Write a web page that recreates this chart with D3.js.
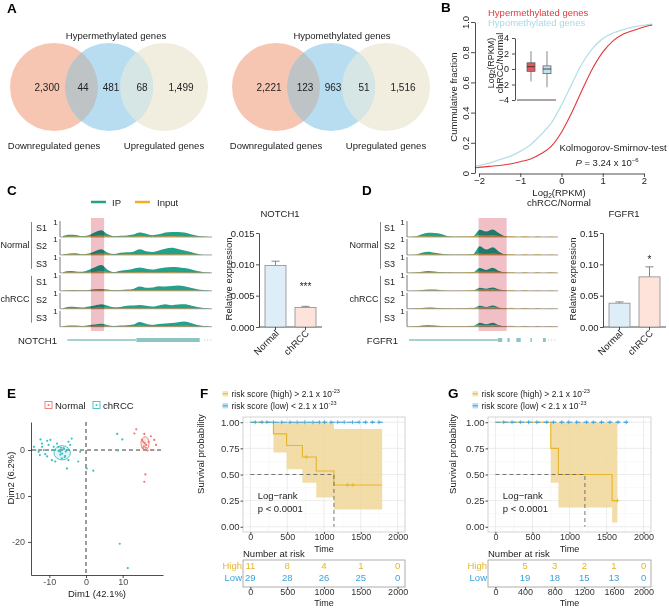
<!DOCTYPE html>
<html>
<head>
<meta charset="utf-8">
<script src="https://d3js.org/d3.v7.min.js"></script>
<style>
  body { margin: 0; background: #fff; }
  svg { font-family: "Liberation Sans", Arial, Helvetica, sans-serif; }
</style>
</head>
<body>
<div id="app"></div>
<script>
// ---------- A: Venn counts ----------
const hyperCounts = [2300, 44, 481, 68, 1499];
const hypoCounts = [2221, 123, 963, 51, 1516];
const vennSetNames = ['Downregulated genes', 'Upregulated genes'];

// ---------- B: cumulative fraction ----------
const ksX = [-2.1, -2, -1.75, -1.5, -1.25, -1, -0.75, -0.5, -0.25, 0, 0.25, 0.5, 0.75, 1, 1.25, 1.5, 1.75, 2, 2.2];
const ksHyper = [0.034, 0.037, 0.044, 0.05, 0.06, 0.075, 0.092, 0.127, 0.176, 0.27, 0.40, 0.55, 0.69, 0.80, 0.875, 0.92, 0.945, 0.967, 0.98];
const ksHypo = [0.045, 0.05, 0.066, 0.088, 0.11, 0.143, 0.187, 0.253, 0.33, 0.45, 0.59, 0.725, 0.824, 0.89, 0.927, 0.95, 0.967, 0.978, 0.985];
const boxGroups = ['Hypermethylated', 'Hypomethylated'];
const boxLow = [-1.6, -2.35];
const boxQ1 = [-0.3, -0.6];
const boxMed = [0.3, 0];
const boxQ3 = [0.8, 0.4];
const boxHigh = [2.3, 2.3];

// ---------- C / D: coverage tracks (relative, 24 bins) ----------
const trackSamples = ['S1', 'S2', 'S3', 'S1', 'S2', 'S3'];
const trackGroups = ['Normal', 'chRCC'];
const notchIP = [
  [0.06, 0.15, 0.14, 0.06, 0.12, 0.32, 0.45, 0.18, 0.05, 0.08, 0.10, 0.16, 0.30, 0.22, 0.12, 0.18, 0.30, 0.34, 0.33, 0.30, 0.18, 0.08, 0.03, 0],
  [0.02, 0.10, 0.12, 0.05, 0.10, 0.25, 0.38, 0.15, 0.06, 0.14, 0.18, 0.22, 0.38, 0.25, 0.20, 0.30, 0.42, 0.48, 0.40, 0.30, 0.20, 0.08, 0, 0],
  [0.05, 0.12, 0.10, 0.08, 0.20, 0.38, 0.52, 0.20, 0.06, 0.15, 0.20, 0.28, 0.36, 0.28, 0.22, 0.30, 0.36, 0.40, 0.38, 0.32, 0.25, 0.12, 0.05, 0.02],
  [0.02, 0.04, 0.06, 0.04, 0.06, 0.10, 0.12, 0.08, 0.04, 0.05, 0.08, 0.12, 0.28, 0.20, 0.22, 0.30, 0.28, 0.32, 0.36, 0.30, 0.20, 0.10, 0.05, 0.02],
  [0.04, 0.14, 0.12, 0.08, 0.15, 0.22, 0.30, 0.20, 0.10, 0.12, 0.20, 0.22, 0.25, 0.20, 0.15, 0.22, 0.30, 0.24, 0.28, 0.30, 0.22, 0.12, 0.05, 0.02],
  [0.03, 0.08, 0.08, 0.05, 0.10, 0.14, 0.20, 0.10, 0.05, 0.08, 0.10, 0.15, 0.32, 0.20, 0.12, 0.18, 0.22, 0.25, 0.30, 0.35, 0.25, 0.12, 0.05, 0.02]
];
const notchInput = [
  [0.02, 0.05, 0.05, 0.03, 0.05, 0.08, 0.10, 0.06, 0.02, 0.03, 0.04, 0.04, 0.06, 0.04, 0.03, 0.05, 0.05, 0.06, 0.05, 0.04, 0.03, 0.02, 0.01, 0],
  [0.02, 0.04, 0.05, 0.03, 0.04, 0.07, 0.09, 0.05, 0.02, 0.03, 0.04, 0.05, 0.05, 0.04, 0.03, 0.04, 0.05, 0.05, 0.04, 0.04, 0.03, 0.02, 0, 0],
  [0.02, 0.04, 0.04, 0.03, 0.05, 0.08, 0.11, 0.06, 0.02, 0.03, 0.04, 0.05, 0.06, 0.05, 0.04, 0.05, 0.05, 0.06, 0.05, 0.04, 0.03, 0.02, 0.01, 0],
  [0.02, 0.03, 0.04, 0.03, 0.04, 0.06, 0.07, 0.05, 0.02, 0.03, 0.04, 0.05, 0.06, 0.05, 0.04, 0.05, 0.05, 0.05, 0.06, 0.05, 0.03, 0.02, 0.01, 0],
  [0.02, 0.05, 0.05, 0.03, 0.05, 0.07, 0.09, 0.06, 0.03, 0.04, 0.05, 0.05, 0.05, 0.04, 0.03, 0.04, 0.05, 0.04, 0.05, 0.05, 0.04, 0.02, 0.01, 0],
  [0.02, 0.04, 0.04, 0.03, 0.04, 0.06, 0.08, 0.05, 0.02, 0.03, 0.04, 0.04, 0.06, 0.04, 0.03, 0.04, 0.04, 0.05, 0.05, 0.06, 0.04, 0.02, 0.01, 0]
];
const fgfrIP = [
  [0, 0.03, 0.18, 0.28, 0.27, 0.20, 0.06, 0.02, 0.01, 0.01, 0.05, 0.48, 0.36, 0.50, 0.25, 0.04, 0, 0, 0, 0, 0, 0, 0, 0],
  [0, 0.02, 0.15, 0.22, 0.15, 0.08, 0.03, 0.01, 0.01, 0.01, 0.06, 0.58, 0.36, 0.52, 0.22, 0.03, 0, 0, 0, 0, 0, 0, 0, 0],
  [0, 0.01, 0.08, 0.13, 0.10, 0.05, 0.02, 0.01, 0.01, 0.01, 0.04, 0.32, 0.20, 0.34, 0.12, 0.02, 0, 0, 0, 0, 0, 0, 0, 0],
  [0, 0.01, 0.06, 0.09, 0.08, 0.04, 0.01, 0.01, 0.01, 0.01, 0.02, 0.20, 0.14, 0.22, 0.08, 0.02, 0, 0, 0, 0, 0, 0, 0, 0],
  [0, 0.01, 0.05, 0.08, 0.06, 0.03, 0.01, 0, 0.01, 0.01, 0.03, 0.20, 0.12, 0.21, 0.07, 0.02, 0, 0, 0, 0, 0, 0, 0, 0],
  [0, 0.02, 0.08, 0.11, 0.08, 0.05, 0.02, 0.01, 0.01, 0.01, 0.04, 0.26, 0.16, 0.26, 0.09, 0.02, 0, 0, 0, 0, 0, 0, 0, 0]
];
const fgfrInput = [
  [0.01, 0.03, 0.05, 0.05, 0.04, 0.03, 0.03, 0.02, 0.03, 0.04, 0.06, 0.12, 0.10, 0.12, 0.07, 0.05, 0.06, 0, 0.06, 0, 0.05, 0, 0.04, 0],
  [0.01, 0.02, 0.04, 0.04, 0.04, 0.03, 0.02, 0.02, 0.02, 0.03, 0.05, 0.10, 0.08, 0.10, 0.06, 0.04, 0.05, 0, 0.05, 0, 0.04, 0, 0.03, 0],
  [0.01, 0.03, 0.04, 0.05, 0.04, 0.03, 0.03, 0.02, 0.03, 0.04, 0.05, 0.10, 0.08, 0.10, 0.06, 0.04, 0.05, 0, 0.05, 0, 0.05, 0, 0.04, 0],
  [0.01, 0.02, 0.04, 0.04, 0.03, 0.03, 0.02, 0.02, 0.02, 0.03, 0.05, 0.09, 0.08, 0.10, 0.06, 0.04, 0.05, 0, 0.05, 0, 0.04, 0, 0.03, 0],
  [0.02, 0.04, 0.05, 0.05, 0.05, 0.04, 0.04, 0.03, 0.04, 0.05, 0.06, 0.10, 0.09, 0.11, 0.07, 0.05, 0.06, 0, 0.06, 0, 0.05, 0, 0.04, 0],
  [0.02, 0.04, 0.05, 0.06, 0.05, 0.04, 0.04, 0.03, 0.04, 0.05, 0.06, 0.12, 0.10, 0.12, 0.07, 0.05, 0.06, 0, 0.06, 0, 0.05, 0, 0.04, 0]
];
const notchPeak = [0.19, 0.28];
const fgfrPeak = [0.47, 0.66];
const notchIntron = [0.03, 0.5];
const notchExons = [[0.5, 0.93]];
const notchTail = [0.96, 1.01];
const fgfrIntron = [0.0, 0.6];
const fgfrExons = [[0.6, 0.63], [0.665, 0.68], [0.725, 0.755], [0.82, 0.83], [0.905, 0.925]];
const fgfrTail = [0.94, 0.99];

// ---------- C / D: qPCR bars ----------
const barGroups = ['Normal', 'chRCC'];
const notchMean = [0.0098, 0.0031];
const notchErr = [0.0007, 0.0002];
const fgfrMean = [0.038, 0.080];
const fgfrErr = [0.002, 0.016];

// ---------- E: PCA ----------
const pcaChrccX = [-12.4, -12.0, -10.6, -9.7, -10.2, -11.5, -12.9, -12.6, -13.8, -11.1, -9.3, -8.8, -7.9, -7.5, -7.0, -6.1, -5.2, -4.8, -3.9, -4.3, -5.7, -4.8, -5.2, -2.1, -1.6, 0.2, 2.0, 8.5, 9.9, 8.7, 9.2, 11.4, -9.3, -8.4, -6.6, -10.6, -14.2, -12.0, -7.0, -6.0, -6.5, -5.8, -7.5, -6.8, -5.5];
const pcaChrccY = [2.3, 1.4, 2.0, 2.2, 1.1, 0, -0.4, -1.1, 0, -0.9, 0, 0.7, 1.4, 0.7, -0.4, 0.4, 0, 1.8, 2.5, 1.1, -1.3, -2.2, -4.0, -2.5, -0.4, -4.0, -4.5, 3.5, 2.3, -0.1, -20.4, -25.7, -2.2, -2.5, -1.8, -1.4, 0.7, 0.7, -1.0, 0.2, -0.8, -1.5, -0.2, 0.5, -0.3];
const pcaNormalX = [13.7, 13.2, 15.9, 17.7, 18.6, 19.1, 16.4, 15.5, 16.8, 18.4, 16.2, 15.9, 15.3, 17.1, 16.0, 15.8, 16.3, 15.6];
const pcaNormalY = [4.5, 3.6, 3.5, 3.0, 2.2, 1.1, 1.1, 0.4, -0.1, 0, -5.3, -6.9, 2.2, 1.8, 1.5, 0.8, 0.5, 1.8];
const ellipseChrcc = [-6.5, -0.6, 2.25, 1.55];
const ellipseNormal = [16.1, 1.45, 1.1, 1.45];

// ---------- F / G: Kaplan-Meier ----------
const kmTimeHighF = [0, 313, 492, 707, 895, 1135, 1790];
const kmSurvHighF = [1, 0.889, 0.778, 0.667, 0.533, 0.40, 0.40];
const kmLowerHighF = [1, 0.71, 0.55, 0.42, 0.28, 0.166, 0.166];
const kmUpperHighF = [1, 1, 1, 1, 1, 0.936, 0.936];
const censorTimeHighF = [760, 1320, 1390];
const censorSurvHighF = [0.667, 0.40, 0.40];
const censorTimeLowF = [67, 157, 224, 313, 425, 537, 635, 738, 850, 940, 1007, 1096, 1186, 1275, 1387, 1477, 1566, 1656, 1745];
const kmLowEndF = 1800;
const medianF = 1135;
const riskTimesF = [0, 500, 1000, 1500, 2000];
const riskHighF = [11, 8, 4, 1, 0];
const riskLowF = [29, 28, 26, 25, 0];
const riskTicksF = [0, 500, 1000, 1500, 2000];

const kmTimeHighG = [0, 747, 850, 1575, 1647];
const kmSurvHighG = [1, 0.75, 0.5, 0.25, 0.25];
const kmLowerHighG = [1, 0.42, 0.185, 0.04, 0.04];
const kmUpperHighG = [1, 1, 1, 1, 1];
const censorTimeHighG = [1647];
const censorSurvHighG = [0.25];
const censorTimeLowG = [112, 224, 336, 447, 559, 694, 783, 895, 984, 1096, 1230, 1320, 1432, 1544, 1655, 1767];
const kmLowEndG = 1790;
const medianG = 1208;
const riskTimesG = [400, 800, 1200, 1600, 2000];
const riskHighG = [5, 3, 2, 1, 0];
const riskLowG = [19, 18, 15, 13, 0];
const riskTicksG = [0, 400, 800, 1200, 1600, 2000];

const kmTicks = [0, 500, 1000, 1500, 2000];
const survTicks = [0, 0.25, 0.5, 0.75, 1];

// ================= drawing =================
const svg = d3.select('#app').append('svg').attr('width', 669).attr('height', 608);
const defs = svg.append('defs');

function txt(x, y, s, size, o) {
  o = o || {};
  const t = svg.append('text').attr('x', x).attr('y', y).attr('font-size', size)
    .attr('text-anchor', o.anchor || 'start').attr('fill', o.fill || '#222');
  if (o.bold) t.attr('font-weight', 'bold');
  if (o.rot) t.attr('transform', `rotate(${o.rot},${x},${y})`);
  if (s != null) t.text(s);
  return t;
}

function styleAxis(g, size, color) {
  g.attr('font-family', null).attr('font-size', size);
  g.selectAll('text').attr('fill', color || '#222');
  g.selectAll('line,path').attr('stroke', '#222').attr('stroke-width', 0.8);
}

// panel letters
[['A', 7, 13], ['B', 441, 12], ['C', 7, 195], ['D', 362, 195], ['E', 7, 398], ['F', 200, 398], ['G', 448, 398]]
  .forEach(d => txt(d[1], d[2], d[0], 13.5, { bold: true, fill: '#000' }));

// ---------- A ----------
function drawVenn(cx, cy, title, titleX, counts, id) {
  const r = 44;
  const cxs = d3.scalePoint().domain([0, 1, 2]).range([cx - 55, cx + 55]);
  const fills = ['#f7c6b2', '#b9ddf0', '#f1eedf'];
  const g = svg.append('g');
  defs.append('clipPath').attr('id', id).append('circle').attr('cx', cx).attr('cy', cy).attr('r', r);
  [0, 2, 1].forEach(i => g.append('circle').attr('cx', cxs(i)).attr('cy', cy).attr('r', r).attr('fill', fills[i]));
  g.append('circle').attr('cx', cxs(0)).attr('cy', cy).attr('r', r).attr('fill', '#bec3c6').attr('clip-path', `url(#${id})`);
  g.append('circle').attr('cx', cxs(2)).attr('cy', cy).attr('r', r).attr('fill', '#d5e6e4').attr('clip-path', `url(#${id})`);
  txt(titleX, 38.5, title, 9.5, { anchor: 'middle' });
  const labelX = d3.scaleOrdinal().domain([0, 1, 2, 3, 4]).range([-62, -26, 2, 33, 72]);
  counts.forEach((c, i) => txt(cx + labelX(i), cy + 3.5, d3.format(',')(c), 10, { anchor: 'middle' }));
  txt(cxs(0), 148.5, vennSetNames[0], 9.5, { anchor: 'middle' });
  txt(cxs(2), 148.5, vennSetNames[1], 9.5, { anchor: 'middle' });
}
drawVenn(109, 87, 'Hypermethylated genes', 116, hyperCounts, 'clipHyper');
drawVenn(331, 87, 'Hypomethylated genes', 342, hypoCounts, 'clipHypo');

// ---------- B ----------
const gB = svg.append('g');
const xB = d3.scaleLinear().domain([-2, 2]).range([479, 644]);
const yB = d3.scaleLinear().domain([0, 1]).range([173, 22]);
const lineB = d3.line().x((d, i) => xB(ksX[i])).y(d => yB(d)).curve(d3.curveMonotoneX);
gB.append('path').attr('d', lineB(ksHypo)).attr('fill', 'none').attr('stroke', '#b6dfe8').attr('stroke-width', 1.3);
gB.append('path').attr('d', lineB(ksHyper)).attr('fill', 'none').attr('stroke', '#e2383c').attr('stroke-width', 1.1);
const axBx = gB.append('g').attr('transform', 'translate(0,173.5)')
  .call(d3.axisBottom(xB).ticks(4).tickSize(3.5).tickSizeOuter(0).tickPadding(0.5));
styleAxis(axBx, 9.5);
const axBy = gB.append('g').attr('transform', 'translate(475,0)')
  .call(d3.axisLeft(yB).tickValues([0, 0.2, 0.4, 0.6, 0.8, 1]).tickFormat(d => d === 0 ? '0' : d3.format('.1f')(d)).tickSize(4).tickSizeOuter(0));
styleAxis(axBy, 9.5);
axBy.selectAll('text').attr('x', null).attr('dy', null).attr('text-anchor', 'middle').attr('transform', 'translate(-6,0) rotate(-90)');
txt(456.5, 97, 'Cummulative fraction', 9.5, { anchor: 'middle', rot: -90 });
function log2Text(t) {
  t.append('tspan').text('Log');
  t.append('tspan').attr('font-size', 6.5).attr('dy', 1.5).text('2');
  t.append('tspan').attr('dy', -1.5).text('(RPKM)');
}
log2Text(txt(559, 196, null, 9.5, { anchor: 'middle' }));
txt(559, 206, 'chRCC/Normal', 9.5, { anchor: 'middle' });
txt(488, 15.5, 'Hypermethylated genes', 9.5, { fill: '#e2383c' });
txt(488, 25.5, 'Hypomethylated genes', 9.5, { fill: '#aad9e3' });
txt(613, 150.5, 'Kolmogorov-Smirnov-test', 9.5, { anchor: 'middle' });
const pT = txt(607, 165.5, null, 9.5, { anchor: 'middle' });
pT.append('tspan').attr('font-style', 'italic').text('P');
pT.append('tspan').text(' = 3.24 x 10');
pT.append('tspan').attr('font-size', 6).attr('dy', -4).text('\u22126');

// inset box plot
const yIn = d3.scaleLinear().domain([-4, 4]).range([100, 38]);
const xIn = d3.scaleBand().domain(boxGroups).range([519, 559]).paddingInner(0.5).paddingOuter(0.5);
const axIn = gB.append('g').attr('transform', 'translate(515,0)')
  .call(d3.axisLeft(yIn).tickValues([-4, -2, 0, 2, 4]).tickSize(3).tickSizeOuter(0).tickFormat(d => d < 0 ? '\u2212' + (-d) : d));
styleAxis(axIn, 9);
gB.append('line').attr('x1', 517).attr('x2', 556).attr('y1', yIn(-4)).attr('y2', yIn(-4)).attr('stroke', '#222').attr('stroke-width', 0.8);
const boxFill = ['#e2585b', '#c2e2ea'];
boxGroups.forEach((gname, i) => {
  const cx = xIn(gname) + xIn.bandwidth() / 2;
  gB.append('line').attr('x1', cx).attr('x2', cx).attr('y1', yIn(boxLow[i])).attr('y2', yIn(boxHigh[i])).attr('stroke', '#555').attr('stroke-width', 0.7);
  gB.append('rect').attr('x', xIn(gname)).attr('width', xIn.bandwidth()).attr('y', yIn(boxQ3[i])).attr('height', yIn(boxQ1[i]) - yIn(boxQ3[i]))
    .attr('fill', boxFill[i]).attr('stroke', '#555').attr('stroke-width', 0.7);
  gB.append('line').attr('x1', xIn(gname)).attr('x2', xIn(gname) + xIn.bandwidth()).attr('y1', yIn(boxMed[i])).attr('y2', yIn(boxMed[i])).attr('stroke', '#333').attr('stroke-width', 0.9);
});
log2Text(txt(493.5, 63, null, 9, { anchor: 'middle', rot: -90 }));
txt(502.5, 63, 'chRCC/Normal', 9, { anchor: 'middle', rot: -90 });

// ---------- C / D tracks ----------
const trackBase = d3.scaleLinear().domain([0, 5]).range([237, 326.7]);
const trackH = d3.scaleLinear().domain([0, 1]).range([0, 15]);

function drawTracks(o) {
  const g = svg.append('g');
  const xt = d3.scaleLinear().domain([0, 1]).range([o.x0, o.x1]);
  const xi = d3.scaleLinear().domain([0, o.ip[0].length - 1]).range([o.x0, o.x1]);
  o.ip.forEach((vals, k) => {
    const b = trackBase(k);
    const area = d3.area().x((d, i) => xi(i)).y0(b).y1(d => b - trackH(d)).curve(d3.curveMonotoneX);
    g.append('path').attr('d', area(vals)).attr('fill', '#22a28b');
    g.append('path').attr('d', area(o.input[k])).attr('fill', '#f0ae24').attr('opacity', 0.9);
    g.append('line').attr('x1', o.axisX).attr('x2', o.lineEnd).attr('y1', b).attr('y2', b).attr('stroke', '#8a8a8a').attr('stroke-width', 0.8);
    g.append('line').attr('x1', o.axisX).attr('x2', o.axisX).attr('y1', b - 16).attr('y2', b).attr('stroke', '#555').attr('stroke-width', 0.8);
    txt(o.axisX - 4.5, b - 12.5, '1', 8, { anchor: 'middle' });
    txt(o.sx, b - 6, trackSamples[k], 9);
  });
  svg.append('rect').attr('x', xt(o.peak[0])).attr('width', xt(o.peak[1]) - xt(o.peak[0]))
    .attr('y', 218).attr('height', 113).attr('fill', '#f1bfc6').style('mix-blend-mode', 'multiply');
  trackGroups.forEach((name, j) => {
    const top = trackBase(3 * j) - 15, bot = trackBase(3 * j + 2) - 4;
    svg.append('line').attr('x1', o.bracketX).attr('x2', o.bracketX).attr('y1', top).attr('y2', bot).attr('stroke', '#777').attr('stroke-width', 0.9);
    txt(o.bracketX - 2, (top + bot) / 2 + 3, name, 9, { anchor: 'end' });
  });
  // gene model
  const gy = 340;
  g.append('line').attr('x1', xt(o.intron[0])).attr('x2', xt(o.intron[1])).attr('y1', gy).attr('y2', gy).attr('stroke', '#86c3c1').attr('stroke-width', 1.6);
  o.exons.forEach(e => g.append('rect').attr('x', xt(e[0])).attr('width', xt(e[1]) - xt(e[0])).attr('y', gy - 2).attr('height', 4).attr('fill', '#8cc6c4'));
  g.append('line').attr('x1', xt(o.tail[0])).attr('x2', xt(o.tail[1])).attr('y1', gy).attr('y2', gy).attr('stroke', '#9fcfcd').attr('stroke-width', 1.2).attr('stroke-dasharray', '1,2');
  txt(o.geneX, gy + 3.5, o.gene, 9.5, { anchor: 'end' });
}

drawTracks({ x0: 63, x1: 210, axisX: 60, lineEnd: 212, ip: notchIP, input: notchInput, peak: notchPeak, sx: 36, bracketX: 31.5,
  intron: notchIntron, exons: notchExons, tail: notchTail, gene: 'NOTCH1', geneX: 57 });
drawTracks({ x0: 409, x1: 557, axisX: 407, lineEnd: 558, ip: fgfrIP, input: fgfrInput, peak: fgfrPeak, sx: 384, bracketX: 380.5,
  intron: fgfrIntron, exons: fgfrExons, tail: fgfrTail, gene: 'FGFR1', geneX: 398 });

// legend for tracks
svg.append('line').attr('x1', 91).attr('x2', 106).attr('y1', 202).attr('y2', 202).attr('stroke', '#22a28b').attr('stroke-width', 2.5);
txt(112, 205.5, 'IP', 9.5);
svg.append('line').attr('x1', 135).attr('x2', 150).attr('y1', 202).attr('y2', 202).attr('stroke', '#f0ae24').attr('stroke-width', 2.5);
txt(157, 205.5, 'Input', 9.5);

// ---------- C / D bars ----------
const barFill = ['#ddeef8', '#fde3da'];
function drawBars(o) {
  const g = svg.append('g');
  const y = d3.scaleLinear().domain([0, o.max]).range([327, 233]);
  const x = d3.scaleBand().domain(barGroups).range([o.axisX, o.axisX + 63]).paddingInner(0.3).paddingOuter(0.2);
  const ax = g.append('g').attr('transform', `translate(${o.axisX},0)`)
    .call(d3.axisLeft(y).tickValues(o.ticks).tickFormat(d3.format(o.fmt)).tickSize(3).tickPadding(1.5).tickSizeOuter(0));
  styleAxis(ax, 9.5);
  g.append('line').attr('x1', o.axisX).attr('x2', o.axisX + 63).attr('y1', 327).attr('y2', 327).attr('stroke', '#222').attr('stroke-width', 0.8);
  barGroups.forEach((name, i) => {
    const cx = x(name) + x.bandwidth() / 2;
    const top = y(o.mean[i] + o.err[i]);
    g.append('line').attr('x1', cx).attr('x2', cx).attr('y1', y(o.mean[i])).attr('y2', top).attr('stroke', '#777').attr('stroke-width', 0.9);
    g.append('line').attr('x1', cx - 4).attr('x2', cx + 4).attr('y1', top).attr('y2', top).attr('stroke', '#777').attr('stroke-width', 0.9);
    g.append('rect').attr('x', x(name)).attr('width', x.bandwidth()).attr('y', y(o.mean[i])).attr('height', 327 - y(o.mean[i]))
      .attr('fill', barFill[i]).attr('stroke', '#8c8c8c').attr('stroke-width', 0.8);
    g.append('line').attr('x1', cx).attr('x2', cx).attr('y1', 327).attr('y2', 330).attr('stroke', '#222').attr('stroke-width', 0.8);
    txt(cx + 4, 334, name, 9.5, { anchor: 'end', rot: -45 });
  });
  const sx = x(barGroups[1]) + x.bandwidth() / 2;
  txt(sx, y(o.mean[1] + o.err[1]) - o.sigGap, o.sig, 10, { anchor: 'middle' });
  txt(o.axisX - 27.5, 279, 'Relative expression', 9.5, { anchor: 'middle', rot: -90 });
  txt(o.axisX + 21, 216.5, o.title, 9.5, { anchor: 'middle' });
}
drawBars({ axisX: 259, max: 0.015, ticks: [0, 0.005, 0.01, 0.015], fmt: '.3f', mean: notchMean, err: notchErr, sig: '***', sigGap: 16, title: 'NOTCH1' });
drawBars({ axisX: 603, max: 0.15, ticks: [0, 0.05, 0.1, 0.15], fmt: '.2f', mean: fgfrMean, err: fgfrErr, sig: '*', sigGap: 4, title: 'FGFR1' });

// ---------- E ----------
const gE = svg.append('g');
const xE = d3.scaleLinear().domain([-15, 21]).range([31, 163]);
const yE = d3.scaleLinear().domain([-27.2, 6.1]).range([575, 422]);
const cNormal = '#f0776e', cChrcc = '#3ebfc1';
gE.append('line').attr('x1', xE(-15)).attr('x2', xE(21)).attr('y1', yE(0)).attr('y2', yE(0)).attr('stroke', '#222').attr('stroke-dasharray', '4,3').attr('stroke-width', 0.9);
gE.append('line').attr('x1', xE(0)).attr('x2', xE(0)).attr('y1', yE(6.1)).attr('y2', yE(-27.2)).attr('stroke', '#222').attr('stroke-dasharray', '4,3').attr('stroke-width', 0.9);
[[ellipseChrcc, cChrcc], [ellipseNormal, cNormal]].forEach(([e, c]) => {
  gE.append('ellipse').attr('cx', xE(e[0])).attr('cy', yE(e[1])).attr('rx', xE(e[0] + e[2]) - xE(e[0])).attr('ry', yE(e[1]) - yE(e[1] + e[3]))
    .attr('fill', c).attr('fill-opacity', 0.15).attr('stroke', c).attr('stroke-width', 0.9);
});
pcaChrccX.forEach((v, i) => gE.append('circle').attr('cx', xE(v)).attr('cy', yE(pcaChrccY[i])).attr('r', 1.1).attr('fill', cChrcc));
pcaNormalX.forEach((v, i) => gE.append('circle').attr('cx', xE(v)).attr('cy', yE(pcaNormalY[i])).attr('r', 1.1).attr('fill', cNormal));
const axEy = gE.append('g').attr('transform', `translate(${xE(-15)},0)`)
  .call(d3.axisLeft(yE).tickValues([-20, -10, 0]).tickFormat(d => String(d)).tickSize(3).tickSizeOuter(0));
styleAxis(axEy, 9, '#4d4d4d');
const axEx = gE.append('g').attr('transform', `translate(0,${yE(-27.2)})`)
  .call(d3.axisBottom(xE).tickValues([-10, 0, 10]).tickFormat(d => String(d)).tickSize(3).tickPadding(1).tickSizeOuter(0));
styleAxis(axEx, 9, '#4d4d4d');
txt(97, 597, 'Dim1 (42.1%)', 9.5, { anchor: 'middle' });
txt(13.5, 478, 'Dim2 (6.2%)', 9.5, { anchor: 'middle', rot: -90 });
[['Normal', cNormal, 45], ['chRCC', cChrcc, 93]].forEach(([name, c, lx]) => {
  svg.append('rect').attr('x', lx).attr('y', 401.5).attr('width', 7).attr('height', 7).attr('fill', 'none').attr('stroke', c).attr('stroke-width', 0.9);
  svg.append('circle').attr('cx', lx + 3.5).attr('cy', 405).attr('r', 1).attr('fill', c);
  txt(lx + 10, 408.5, name, 9.5);
});

// ---------- F / G ----------
const cHigh = '#e5b52a', cLow = '#3aa2dc';
function drawKM(o) {
  const g = svg.append('g');
  const x = d3.scaleLinear().domain([-100, 2100]).range([o.x0, o.x1]);
  const y = d3.scaleLinear().domain([-0.05, 1.05]).range([532, 417]);
  // grid
  [250, 750, 1250, 1750].forEach(t => g.append('line').attr('x1', x(t)).attr('x2', x(t)).attr('y1', 417).attr('y2', 532).attr('stroke', '#f3f3f3').attr('stroke-width', 0.5));
  [0.125, 0.375, 0.625, 0.875].forEach(s => g.append('line').attr('x1', o.x0).attr('x2', o.x1).attr('y1', y(s)).attr('y2', y(s)).attr('stroke', '#f3f3f3').attr('stroke-width', 0.5));
  kmTicks.forEach(t => g.append('line').attr('x1', x(t)).attr('x2', x(t)).attr('y1', 417).attr('y2', 532).attr('stroke', '#e4e4e4').attr('stroke-width', 0.7));
  survTicks.forEach(s => g.append('line').attr('x1', o.x0).attr('x2', o.x1).attr('y1', y(s)).attr('y2', y(s)).attr('stroke', '#e4e4e4').attr('stroke-width', 0.7));
  g.append('rect').attr('x', o.x0).attr('y', 417).attr('width', o.x1 - o.x0).attr('height', 115).attr('fill', 'none').attr('stroke', '#c8c8c8').attr('stroke-width', 0.8);
  // confidence band + step curve for high risk
  const idx = d3.range(1, o.t.length);
  const band = d3.area().curve(d3.curveStepAfter).x(i => x(o.t[i])).y0(i => y(o.lo[i])).y1(i => y(o.up[i]));
  g.append('path').attr('d', band(idx)).attr('fill', '#f0d79a').attr('opacity', 0.85);
  const step = d3.line().curve(d3.curveStepAfter).x(i => x(o.t[i])).y(i => y(o.s[i]));
  g.append('path').attr('d', step(d3.range(o.t.length))).attr('fill', 'none').attr('stroke', cHigh).attr('stroke-width', 1.1);
  o.cT.forEach((t, i) => g.append('path').attr('d', `M${x(t) - 2},${y(o.cS[i])}H${x(t) + 2}M${x(t)},${y(o.cS[i]) - 2}V${y(o.cS[i]) + 2}`).attr('stroke', cHigh).attr('stroke-width', 0.8));
  // median
  g.append('path').attr('d', `M${x(0)},${y(0.5)}H${x(o.median)}V${y(0)}`).attr('fill', 'none').attr('stroke', '#666').attr('stroke-width', 0.9).attr('stroke-dasharray', '4,3');
  // low risk
  g.append('line').attr('x1', x(0)).attr('x2', x(o.lowEnd)).attr('y1', y(1)).attr('y2', y(1)).attr('stroke', cLow).attr('stroke-width', 1.1).attr('stroke-dasharray', '5,3');
  o.cLow.forEach(t => g.append('path').attr('d', `M${x(t) - 2},${y(1)}H${x(t) + 2}M${x(t)},${y(1) - 2}V${y(1) + 2}`).attr('stroke', cLow).attr('stroke-width', 0.8));
  // axes
  const ay = g.append('g').attr('transform', `translate(${o.x0},0)`)
    .call(d3.axisLeft(y).tickValues(survTicks).tickFormat(d3.format('.2f')).tickSize(2.5).tickPadding(1).tickSizeOuter(0));
  styleAxis(ay, 9.5, '#333'); ay.select('.domain').remove();
  const ax = g.append('g').attr('transform', 'translate(0,532)')
    .call(d3.axisBottom(x).tickValues(kmTicks).tickFormat(d3.format('d')).tickSize(2).tickPadding(0).tickSizeOuter(0));
  styleAxis(ax, 9, '#333'); ax.select('.domain').remove();
  txt(x(1000), 551.5, 'Time', 9, { anchor: 'middle' });
  txt(o.ylabX, 454, 'Survival probability', 9.5, { anchor: 'middle', rot: -90 });
  txt(x(100), 499, 'Log\u2212rank', 9.5);
  txt(x(100), 511.5, 'p < 0.0001', 9.5);
  // legend
  [['high', '>', cHigh, 390], ['low', '<', cLow, 402]].forEach(([lvl, op, c, ly]) => {
    svg.append('rect').attr('x', o.lx).attr('y', ly + 1).attr('width', 5.5).attr('height', 5.5).attr('fill', c).attr('opacity', 0.35);
    svg.append('line').attr('x1', o.lx).attr('x2', o.lx + 5.5).attr('y1', ly + 3.8).attr('y2', ly + 3.8).attr('stroke', c).attr('stroke-width', 1);
    const t = txt(o.lx + 9, ly + 6.5, null, 8.5);
    t.append('tspan').text(`risk score (${lvl}) ${op} 2.1 x 10`);
    t.append('tspan').attr('font-size', 5.5).attr('dy', -3.5).text('-23');
  });
  // risk table
  txt(o.x0, 556.5, 'Number at risk', 9.5);
  g.append('rect').attr('x', o.x0).attr('y', 560).attr('width', o.x1 - o.x0).attr('height', 27).attr('fill', 'none').attr('stroke', '#999').attr('stroke-width', 0.8);
  txt(o.x0 - 1, 568.5, 'High', 9.5, { anchor: 'end', fill: cHigh });
  txt(o.x0 - 1, 580.5, 'Low', 9.5, { anchor: 'end', fill: cLow });
  o.rT.forEach((t, i) => {
    txt(x(t), 568.5, o.rH[i], 9.5, { anchor: 'middle', fill: cHigh });
    txt(x(t), 580.5, o.rL[i], 9.5, { anchor: 'middle', fill: cLow });
  });
  const at = g.append('g').attr('transform', 'translate(0,587)')
    .call(d3.axisBottom(x).tickValues(o.rTicks).tickFormat(d3.format('d')).tickSize(2).tickPadding(0).tickSizeOuter(0));
  styleAxis(at, 9, '#333'); at.select('.domain').remove();
  txt(x(1000), 605.5, 'Time', 9, { anchor: 'middle' });
}
drawKM({ x0: 243, x1: 405, t: kmTimeHighF, s: kmSurvHighF, lo: kmLowerHighF, up: kmUpperHighF, cT: censorTimeHighF, cS: censorSurvHighF,
  cLow: censorTimeLowF, lowEnd: kmLowEndF, median: medianF, rT: riskTimesF, rH: riskHighF, rL: riskLowF, rTicks: riskTicksF, ylabX: 203.5, lx: 222.5 });
drawKM({ x0: 488, x1: 651, t: kmTimeHighG, s: kmSurvHighG, lo: kmLowerHighG, up: kmUpperHighG, cT: censorTimeHighG, cS: censorSurvHighG,
  cLow: censorTimeLowG, lowEnd: kmLowEndG, median: medianG, rT: riskTimesG, rH: riskHighG, rL: riskLowG, rTicks: riskTicksG, ylabX: 455.5, lx: 472.5 });
</script>
</body>
</html>
